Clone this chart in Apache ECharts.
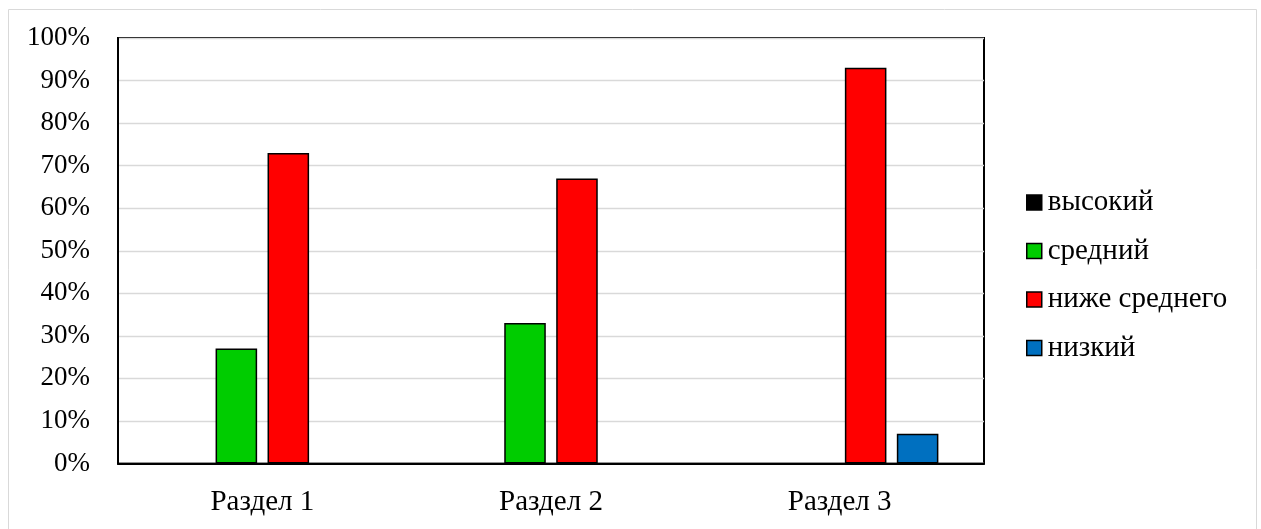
<!DOCTYPE html>
<html>
<head>
<meta charset="utf-8">
<script src="https://cdn.jsdelivr.net/npm/echarts@6/dist/echarts.min.js"></script>
<style>
  html, body { margin: 0; padding: 0; background: #fff; }
  #chart { width: 1261px; height: 529px; }
</style>
</head>
<body>
<div id="chart"></div>
<script>
// Categories and level shares (%) per section
const categories = ['Раздел 1', 'Раздел 2', 'Раздел 3'];
const seriesNames = ['высокий', 'средний', 'ниже среднего', 'низкий'];
const high = [0, 0, 0];
const medium = [27, 33, 0];
const belowMedium = [73, 67, 93];
const low = [0, 0, 7];
const yTicks = [0, 10, 20, 30, 40, 50, 60, 70, 80, 90, 100];

const colors = ['#000000', '#00cc00', '#ff0000', '#0070c0'];
const values = [high, medium, belowMedium, low];
const fontFamily = "'Liberation Serif', 'Times New Roman', serif";

const chart = echarts.init(document.getElementById('chart'));

// zero-valued bars get no outline so nothing shows on the baseline
const series = seriesNames.map((name, i) => ({
  name: name,
  type: 'bar',
  data: values[i].map(v => ({ value: v, itemStyle: { borderWidth: v ? 1.5 : 0 } })),
  barGap: '25%',
  barCategoryGap: '31.6%',
  itemStyle: { color: colors[i], borderColor: '#000', borderWidth: 1.5 },
  emphasis: { disabled: true }
}));

chart.setOption({
  animation: false,
  textStyle: { fontFamily: fontFamily },
  graphic: [{
    type: 'rect',
    shape: { x: 8.5, y: 9.5, width: 1248, height: 540 },
    style: { fill: 'none', stroke: '#d9d9d9', lineWidth: 1 },
    silent: true
  }],
  grid: {
    left: 118, right: 277, top: 38, bottom: 65.5,
    show: true, borderColor: '#000', borderWidth: 2, backgroundColor: 'transparent'
  },
  legend: {
    orient: 'vertical',
    left: 1021,
    top: 183,
    itemWidth: 15,
    itemHeight: 15,
    itemGap: 19.5,
    icon: 'rect',
    selectedMode: false,
    data: seriesNames,
    itemStyle: { borderWidth: 1.5, borderColor: '#000' },
    textStyle: { fontFamily: fontFamily, fontSize: 29, color: '#000', lineHeight: 29, padding: [0, 0, 0, 1] }
  },
  xAxis: {
    type: 'category',
    data: categories,
    axisLine: { lineStyle: { color: '#000', width: 2 } },
    axisTick: { show: false },
    axisLabel: { fontFamily: fontFamily, fontSize: 29, color: '#000', margin: 24 }
  },
  yAxis: {
    type: 'value',
    min: yTicks[0],
    max: yTicks[yTicks.length - 1],
    interval: yTicks[1] - yTicks[0],
    axisLine: { show: true, lineStyle: { color: '#000', width: 2 } },
    axisTick: { show: false },
    splitLine: { lineStyle: { color: '#d9d9d9', width: 1.3 } },
    axisLabel: { fontFamily: fontFamily, fontSize: 27, color: '#000', margin: 28, formatter: '{value}%' }
  },
  series: series
});
</script>
</body>
</html>
